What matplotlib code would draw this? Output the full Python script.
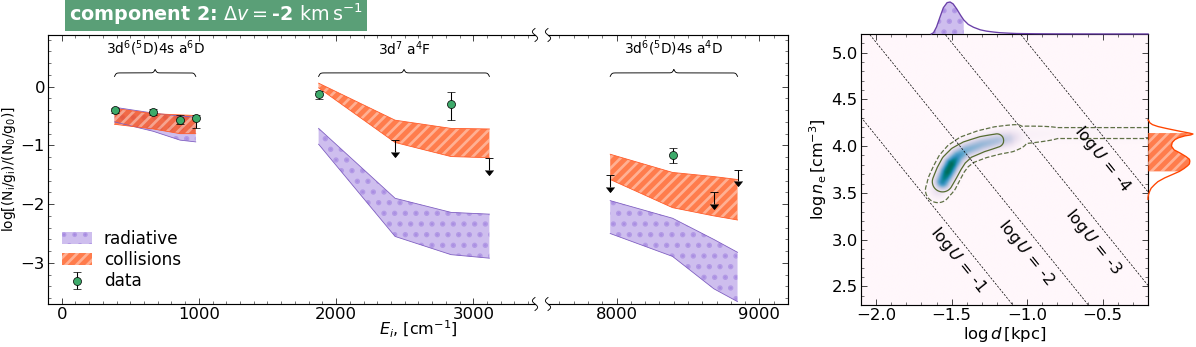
import numpy as np
import matplotlib
matplotlib.use("Agg")
import matplotlib as mpl
import matplotlib.pyplot as plt
from matplotlib.patches import Patch
from matplotlib.colors import PowerNorm

mpl.rcParams['font.size'] = 18
mpl.rcParams['mathtext.fontset'] = 'dejavusans'
mpl.rcParams['hatch.linewidth'] = 3.0
mpl.rcParams['axes.linewidth'] = 1.3

W, H, DPI = 1196, 347, 64

# ---------------- data ----------------
lev_a6D = [384.79, 667.68, 862.61, 977.05]
lev_a4F = [1872.60, 2430.14, 2837.98, 3117.46]
lev_a4D = [7955.32, 8391.94, 8680.47, 8846.77]

rad_lo_a6D = [-0.60, -0.76, -0.91, -0.94]
rad_hi_a6D = [-0.35, -0.45, -0.50, -0.52]
col_lo_a6D = [-0.64, -0.72, -0.80, -0.80]
col_hi_a6D = [-0.37, -0.46, -0.48, -0.49]

rad_lo_a4F = [-0.98, -2.55, -2.86, -2.92]
rad_hi_a4F = [-0.71, -1.90, -2.14, -2.17]
col_lo_a4F = [-0.02, -0.95, -1.19, -1.21]
col_hi_a4F = [0.06, -0.57, -0.71, -0.72]

rad_lo_a4D = [-2.50, -2.89, -3.44, -3.66]
rad_hi_a4D = [-1.94, -2.24, -2.60, -2.82]
col_lo_a4D = [-1.58, -2.06, -2.20, -2.27]
col_hi_a4D = [-1.15, -1.46, -1.53, -1.58]

det_x = [384.79, 667.68, 862.61, 977.05, 1872.60, 2837.98, 8391.94]
det_y = [-0.40, -0.43, -0.56, -0.54, -0.12, -0.29, -1.17]
det_elo = [0.04, 0.05, 0.07, 0.17, 0.09, 0.28, 0.13]
det_ehi = [0.04, 0.05, 0.07, 0.05, 0.04, 0.20, 0.13]

ul_x = [2430.14, 3117.46, 7955.32, 8680.47, 8846.77]
ul_y = [-0.91, -1.21, -1.50, -1.80, -1.41]

group_labels = [r"3d$^6$($^5$D)4s a$^6$D", r"3d$^7$ a$^4$F", r"3d$^6$($^5$D)4s a$^4$D"]

# density ridge (log d, log ne, relative density)
ridge_d = [-1.59, -1.56, -1.53, -1.50, -1.46, -1.40, -1.30, -1.20, -1.12, -1.02, -0.80, -0.10]
ridge_n = [3.53, 3.62, 3.72, 3.81, 3.89, 3.96, 4.02, 4.06, 4.08, 4.12, 4.14, 4.14]
ridge_amp = [0.30, 0.85, 1.0, 1.0, 0.8, 0.65, 0.60, 0.55, 0.45, 0.12, 0.094, 0.094]

logU_levels = [-1, -2, -3, -4]
logU_zero = -0.89          # log ne + 2 log d + log U
logU_lab_d = [-1.46, -1.01, -0.56, -0.50]
logU_lab_n = [2.79, 2.86, 2.98, 3.86]

top_d = [-1.635, -1.62, -1.60, -1.577, -1.555, -1.53, -1.51, -1.49, -1.466, -1.44, -1.42,
         -1.39, -1.355, -1.31, -1.27, -1.22, -1.18, -1.12, -1.07, -0.95, -0.80, -0.50, -0.20]
top_p = [0, 0.04, 0.22, 0.53, 0.82, 0.98, 1.0, 0.94, 0.78, 0.58, 0.44,
         0.30, 0.21, 0.13, 0.09, 0.06, 0.04, 0.025, 0.015, 0.008, 0.004, 0.001, 0]
top_lo, top_hi = -1.62, -1.41

right_n = [4.28, 4.27, 4.25, 4.23, 4.21, 4.19, 4.16, 4.14, 4.13, 4.12, 4.11, 4.09, 4.07,
           4.04, 4.00, 3.96, 3.93, 3.89, 3.86, 3.84, 3.81, 3.79, 3.76, 3.73, 3.70,
           3.66, 3.62, 3.59, 3.55, 3.52, 3.48, 3.45, 3.43]
right_p = [0, 0.02, 0.04, 0.1, 0.22, 0.4, 0.7, 0.92, 1.0, 0.95, 0.82, 0.68, 0.6,
           0.54, 0.52, 0.58, 0.7, 0.84, 0.92, 0.93, 0.92, 0.88, 0.8, 0.7, 0.56,
           0.37, 0.22, 0.15, 0.07, 0.04, 0.01, 0.0, 0.0]
right_lo, right_hi = 3.73, 4.15

# ---------------- styles ----------------
rad_face = mpl.colors.to_rgba('mediumpurple', 0.45)
rad_edge = '#7d5cc0'
col_face = mpl.colors.to_rgba('orangered', 0.7)
col_hatch = (1, 1, 1, 0.4)
col_edge = '#ff5a28'
green = '#3daa6a'
rad_hatch, col_hatchpat = '.', '//'


def px_axes(fig, x0, y0, x1, y1):
    return fig.add_axes([x0 / W, 1 - y1 / H, (x1 - x0) / W, (y1 - y0) / H])


def rad_fill(ax, *args, vertical=True):
    with mpl.rc_context({'hatch.linewidth': 3.6}):
        f = ax.fill_between if vertical else ax.fill_betweenx
        f(*args, facecolor=rad_face, edgecolor=rad_face, hatch=rad_hatch, lw=0)


def band(ax, x, lo, hi, kind):
    if kind == 'rad':
        rad_fill(ax, x, lo, hi)
        c = rad_edge
    else:
        ax.fill_between(x, lo, hi, facecolor=col_face, edgecolor=col_hatch, hatch=col_hatchpat, lw=0)
        c = col_edge
    ax.plot(x, lo, color=c, lw=0.9)
    ax.plot(x, hi, color=c, lw=0.9)


def brace(ax, xa, xb, y, label, h_px=7.0, k=1.2):
    x0, x1 = ax.get_xlim()
    y0, y1 = ax.get_ylim()
    bb = ax.get_position()
    sx = bb.width * W / (x1 - x0)
    sy = bb.height * H / (y1 - y0)
    xs = np.linspace(xa, xb, 301)
    r = (xs - xa) * sx
    L = (xb - xa) * sx
    half = np.minimum(r, L - r)
    yy = 1 / (1 + np.exp(-k * half)) + 1 / (1 + np.exp(-k * (half - L / 2)))
    ax.plot(xs, y + (yy - 0.5) * h_px / sy, color='k', lw=1.0)
    ax.text((xa + xb) / 2, y + 28 / sy, label, ha='center', va='center', fontsize=15.5)


def squiggle(fig, xpx, ypx):
    t = np.linspace(-1, 1, 40)
    xs = xpx - 2.6 * np.sin(np.pi * t)
    ys = ypx - 6.5 * t
    fig.lines.append(plt.Line2D(xs / W, 1 - ys / H, transform=fig.transFigure,
                                color='k', lw=1.0))


fig = plt.figure(figsize=(W / DPI, H / DPI), dpi=DPI)

# ---------------- broken-axis panel ----------------
axL = px_axes(fig, 48, 35, 535, 304)
axR = px_axes(fig, 548, 35, 788, 304)
axL.set_xlim(-100, 3450)
axR.set_xlim(7520, 9200)
for ax in (axL, axR):
    ax.set_ylim(-3.7, 0.88)
    for x, lo, hi in [(lev_a6D, rad_lo_a6D, rad_hi_a6D), (lev_a4F, rad_lo_a4F, rad_hi_a4F),
                      (lev_a4D, rad_lo_a4D, rad_hi_a4D)]:
        band(ax, x, lo, hi, 'rad')
    for x, lo, hi in [(lev_a6D, col_lo_a6D, col_hi_a6D), (lev_a4F, col_lo_a4F, col_hi_a4F),
                      (lev_a4D, col_lo_a4D, col_hi_a4D)]:
        band(ax, x, lo, hi, 'col')
    eb = ax.errorbar(det_x, det_y, yerr=[det_elo, det_ehi], fmt='o', ms=9, mfc=green,
                     mec='k', mew=0.8, ecolor='k', elinewidth=1.2, capsize=4, zorder=5)
    ax.errorbar(ul_x, ul_y, yerr=0.2, uplims=True, fmt='none', ecolor='k', color='k',
                elinewidth=1.2, capsize=4, zorder=5)
    ax.tick_params(which='both', direction='in', top=True, labelsize=18.5)
    ax.tick_params(which='major', length=7)
    ax.tick_params(which='minor', length=3.5)
    ax.yaxis.set_major_locator(mpl.ticker.MultipleLocator(1))
    ax.yaxis.set_minor_locator(mpl.ticker.MultipleLocator(0.2))
    ax.xaxis.set_major_locator(mpl.ticker.MultipleLocator(1000))
    ax.xaxis.set_minor_locator(mpl.ticker.MultipleLocator(100))

axL.spines['right'].set_visible(False)
axR.spines['left'].set_visible(False)
axL.tick_params(which='both', right=False)
axR.tick_params(which='both', left=False, right=True, labelleft=False)

brace(axL, lev_a6D[0], lev_a6D[-1], 0.175, group_labels[0])
brace(axL, lev_a4F[0], lev_a4F[-1], 0.175, group_labels[1])
brace(axR, lev_a4D[0], lev_a4D[-1], 0.175, group_labels[2])

for xp in (535, 548):
    squiggle(fig, xp, 35)
    squiggle(fig, xp, 304)

axL.set_ylabel(r"log[(N$_\mathrm{i}$/g$_\mathrm{i}$)/(N$_0$/g$_0$)]", fontsize=15.5, labelpad=3)
fig.text(418 / W, 1 - 329 / H, r"$E_i$, [cm$^{-1}$]", ha='center', va='center', fontsize=18)

handles = [Patch(facecolor=rad_face, edgecolor=rad_face, hatch=rad_hatch, lw=0),
           Patch(facecolor=col_face, edgecolor=col_hatch, hatch=col_hatchpat, lw=0), eb]
axL.legend(handles, ['radiative', 'collisions', 'data'], loc='lower left', frameon=False,
           fontsize=19, handlelength=1.8, handletextpad=0.7, borderaxespad=0.4,
           labelspacing=0.2)

fig.text(216 / W, 1 - 14 / H, r"component 2: $\Delta v = $-2 $\mathrm{km\,s^{-1}}$",
         ha='center', va='center', fontsize=21.5, fontweight='bold', color='white',
         bbox=dict(facecolor='#5a9f77', edgecolor='none', boxstyle='square,pad=0.2'))

# ---------------- density map ----------------
axM = px_axes(fig, 861, 34, 1148, 305)
dlim, nlim = (-2.1, -0.2), (2.3, 5.2)
axM.set_xlim(*dlim)
axM.set_ylim(*nlim)
sxm = 287 / (dlim[1] - dlim[0])
sym = 271 / (nlim[1] - nlim[0])

dg = np.linspace(dlim[0], dlim[1], 500)
ng = np.linspace(nlim[0], nlim[1], 500)
DD, NN = np.meshgrid(dg, ng)
PX, PY = DD * sxm, NN * sym
dens = np.zeros_like(DD)      # shading
shape = np.zeros_like(DD)     # for the credible contours
for i in range(len(ridge_d) - 1):
    ax0, ay0 = ridge_d[i] * sxm, ridge_n[i] * sym
    vx = ridge_d[i + 1] * sxm - ax0
    vy = ridge_n[i + 1] * sym - ay0
    t = np.clip(((PX - ax0) * vx + (PY - ay0) * vy) / (vx * vx + vy * vy), 0, 1)
    dist2 = (PX - ax0 - t * vx) ** 2 + (PY - ay0 - t * vy) ** 2
    amp = ridge_amp[i] + t * (ridge_amp[i + 1] - ridge_amp[i])
    dens = np.maximum(dens, amp * np.exp(-dist2 / (2 * 6.5 ** 2)))
    shape = np.maximum(shape, amp * np.exp(-(dist2 / 12.0 ** 2) ** 2))

axM.imshow(dens, cmap='PuBuGn', norm=PowerNorm(gamma=1.5, vmin=0, vmax=1.1), origin='lower',
           aspect='auto', extent=[dlim[0], dlim[1], nlim[0], nlim[1]], interpolation='bilinear')
axM.contour(DD, NN, shape, levels=[0.09], colors='#5f7045', linestyles='--', linewidths=1.4)
axM.contour(DD, NN, shape, levels=[0.50], colors='#556b2f', linestyles='-', linewidths=1.4)

ang = -np.degrees(np.arctan(2 * sym / sxm))
for lu, ld, ln in zip(logU_levels, logU_lab_d, logU_lab_n):
    axM.plot(dg, logU_zero - lu - 2 * dg, ls=(0, (3, 2)), color='k', lw=0.8)
    axM.text(ld, ln, r"$\log U$ = %d" % lu, rotation=ang, ha='center', va='center',
             fontsize=18, rotation_mode='anchor')

axM.tick_params(which='both', direction='in', top=True, right=True, labelsize=18.5)
axM.tick_params(which='major', length=7)
axM.tick_params(which='minor', length=3.5)
axM.xaxis.set_major_locator(mpl.ticker.MultipleLocator(0.5))
axM.xaxis.set_minor_locator(mpl.ticker.MultipleLocator(0.1))
axM.yaxis.set_major_locator(mpl.ticker.MultipleLocator(0.5))
axM.yaxis.set_minor_locator(mpl.ticker.MultipleLocator(0.1))
axM.set_xlabel(r"$\log d\,[\mathrm{kpc}]$", fontsize=18.5, labelpad=2)
axM.set_ylabel(r"$\log n_\mathrm{e}\,[\mathrm{cm^{-3}}]$", fontsize=18, labelpad=3)

# ---------------- marginals ----------------
axT = px_axes(fig, 861, 0, 1148, 34)
axT.set_xlim(*dlim)
axT.set_ylim(0, 1.0625)
axT.axis('off')
axT.plot(top_d, top_p, color='#6a40a8', lw=1.5, clip_on=False)
m = (np.array(top_d) >= top_lo) & (np.array(top_d) <= top_hi)
rad_fill(axT, np.array(top_d)[m], 0, np.array(top_p)[m])

axS = px_axes(fig, 1148, 34, 1196, 305)
axS.set_ylim(*nlim)
axS.set_xlim(0, 1.067)
axS.axis('off')
axS.plot(right_p, right_n, color='orangered', lw=1.5, clip_on=False)
m = (np.array(right_n) >= right_lo) & (np.array(right_n) <= right_hi)
axS.fill_betweenx(np.array(right_n)[m], 0, np.array(right_p)[m], facecolor=col_face,
                  edgecolor=col_hatch, hatch=col_hatchpat, lw=0)

fig.savefig('out.png', dpi=DPI)
